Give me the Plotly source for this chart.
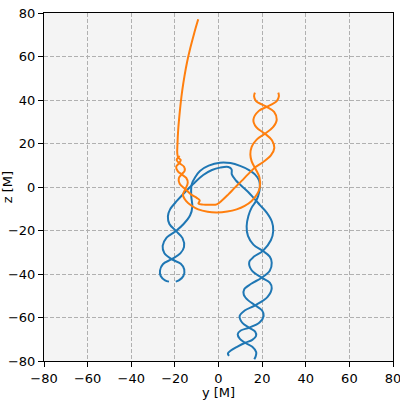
import plotly.graph_objects as go

BLUE = "#1f77b4"
ORANGE = "#ff7f0e"

# blue body, first strand (y, z in units of M)
blue_p_y = [-22.7, -24.5, -26.5, -26.8, -25.5, -21.5, -17.5, -15.8, -16.5, -19.5, -22.5, -23.2,
            -22.2, -19.0, -15.5, -11.5, -7.0, -3.0, 0.7, 4.5, 6.0, 6.1, 8.0, 10.6, 13.5, 16.0,
            19.0, 22.1, 24.5, 25.1, 24.0, 20.3, 16.3, 14.1, 15.2, 19.8, 23.5, 24.4, 22.5, 17.0,
            12.0, 9.7, 10.8, 14.0, 16.8, 17.2, 15.5, 12.2, 8.5, 5.5, 4.3, 4.8]
blue_p_z = [-43.5, -42.9, -40.9, -38.3, -35.5, -33.2, -30.5, -27.5, -23.5, -20.2, -17.0, -13.5,
            -10.3, -6.3, -2.5, 1.5, 5.5, 7.8, 8.9, 9.2, 8.1, 5.8, 3.0, 0.5, -2.2, -4.9,
            -8.3, -11.8, -16.0, -20.2, -24.5, -29.4, -32.0, -34.5, -38.3, -41.7, -44.0, -46.5, -50.5, -54.3,
            -56.8, -59.3, -62.3, -64.7, -66.5, -68.5, -70.3, -71.6, -73.5, -75.3, -76.5, -77.6]

# blue body, second strand
blue_q_y = [-19.6, -18.0, -16.1, -15.7, -17.3, -21.5, -24.8, -25.6, -23.8, -19.5, -16.0, -13.0,
            -12.0, -12.5, -12.3, -10.5, -8.5, -4.5, 0.7, 5.5, 9.9, 14.0, 16.7, 18.6, 19.0, 18.2,
            17.0, 15.2, 13.7, 12.9, 13.5, 16.0, 20.3, 23.5, 24.4, 23.5, 19.8, 15.0, 11.8, 11.6,
            13.5, 17.0, 20.0, 20.7, 18.8, 14.0, 10.2, 8.8, 9.8, 12.2, 15.5, 17.3, 17.0, 16.4]
blue_q_z = [-43.5, -42.8, -40.9, -37.9, -35.3, -33.2, -30.5, -27.1, -23.3, -20.2, -17.0, -13.0,
            -9.0, -4.0, 1.2, 4.8, 7.4, 9.8, 11.2, 11.0, 9.7, 7.8, 5.8, 3.0, 0.0, -4.1,
            -6.8, -9.5, -13.3, -18.0, -22.5, -26.5, -29.4, -32.0, -34.8, -38.5, -41.7, -44.5, -47.0, -49.5,
            -52.0, -54.5, -56.8, -59.3, -62.3, -64.7, -66.0, -67.7, -69.8, -71.6, -73.5, -76.0, -78.0, -79.2]

# orange body, tail and loop
orange_a_y = [-9.3, -11.2, -12.9, -14.4, -15.6, -16.6, -17.4, -18.0, -18.5, -18.8, -18.9, -18.5, -17.3,
              -18.0, -19.4, -18.7, -16.9, -14.8, -14.1, -15.2, -16.3, -14.8, -12.3, -9.3, -5.0,
              -0.8, 4.0, 8.3, 12.0, 15.2, 17.6, 18.9, 18.8, 17.0, 15.2, 14.6, 15.2, 17.5, 21.3,
              25.0, 26.7, 25.5, 22.1, 19.8, 17.2, 16.3, 16.7]
orange_a_z = [77.1, 70.5, 64.0, 57.5, 51.0, 44.5, 38.0, 32.0, 26.0, 20.0, 15.5, 13.6, 12.4,
              11.0, 9.3, 7.3, 5.8, 4.2, 2.0, -1.0, -3.5, -6.5, -8.6, -10.3, -11.4,
              -11.7, -11.3, -10.3, -8.7, -6.4, -3.5, -0.3, 4.3, 8.3, 11.8, 15.0, 18.5, 21.8, 24.5,
              27.5, 31.0, 34.5, 36.8, 38.0, 39.5, 41.8, 43.4]

# orange body, second strand
orange_b_y = [27.4, 27.7, 26.7, 24.4, 22.1, 18.5, 16.0, 17.3, 21.3, 24.5, 25.6, 24.0, 20.5,
              17.0, 13.5, 10.6, 7.5, 4.5, 1.8, -0.8, -3.5, -7.0, -9.2, -8.6, -10.0, -12.5,
              -15.2, -17.8, -18.2, -16.9, -15.5, -15.8, -18.0, -19.2, -18.5, -17.8]
orange_b_z = [43.4, 41.8, 39.5, 38.0, 36.8, 35.0, 31.0, 27.5, 24.5, 21.5, 18.0, 14.5, 11.5,
              9.2, 5.8, 2.8, -0.3, -3.4, -6.0, -8.0, -8.2, -8.1, -7.6, -6.2, -5.0, -3.5,
              -1.0, 1.5, 4.0, 5.8, 7.5, 9.3, 11.0, 12.4, 13.6, 14.3]

tick_vals = [-80, -60, -40, -20, 0, 20, 40, 60, 80]
tick_text = [str(v).replace("-", "\u2212") for v in tick_vals]

fig = go.Figure()
for ys, zs, col in [
    (blue_p_y, blue_p_z, BLUE),
    (blue_q_y, blue_q_z, BLUE),
    (orange_a_y, orange_a_z, ORANGE),
    (orange_b_y, orange_b_z, ORANGE),
]:
    fig.add_trace(go.Scatter(
        x=ys, y=zs, mode="lines",
        line=dict(color=col, width=2, shape="spline", smoothing=1.0),
        hoverinfo="skip",
    ))

axis_common = dict(
    range=[-80, 80],
    tickvals=tick_vals,
    ticktext=tick_text,
    ticklabeloverflow="allow",
    showgrid=True,
    gridcolor="#b0b0b0",
    griddash="4px,2px",
    gridwidth=1,
    zeroline=False,
    showline=True,
    mirror=True,
    linecolor="black",
    linewidth=1,
    ticks="outside",
    ticklen=5,
    tickwidth=1,
    tickcolor="black",
    tickfont=dict(size=13, color="black"),
)

fig.update_layout(
    width=400,
    height=400,
    showlegend=False,
    paper_bgcolor="white",
    plot_bgcolor="#f4f4f4",
    font=dict(family="DejaVu Sans", color="black"),
    margin=dict(l=44, r=7, t=13, b=39, autoexpand=False),
    xaxis=dict(axis_common, title=dict(text="y [M]", font=dict(size=13), standoff=4)),
    yaxis=dict(axis_common, title=dict(text="z [M]", font=dict(size=13), standoff=4)),
)

fig.write_html(
    "out.html",
    config={"displayModeBar": False},
    post_script="document.body.style.margin='0';",
)
